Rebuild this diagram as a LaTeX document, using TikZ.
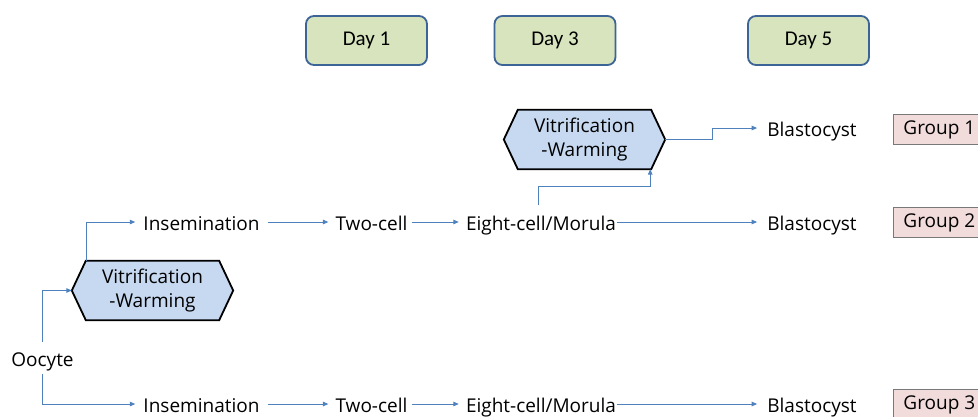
\documentclass[tikz,border=0pt]{standalone}
\usepackage{fontspec}
\setmainfont{Open Sans}
\newfontfamily\dayfont{Carlito}
\usetikzlibrary{arrows.meta,backgrounds,calc}
\definecolor{connc}{RGB}{79,129,189}
\definecolor{hexfill}{RGB}{198,217,241}
\definecolor{dayfill}{RGB}{215,228,189}
\definecolor{daybd}{RGB}{60,100,150}
\definecolor{grpfill}{RGB}{242,220,219}
\definecolor{grpbd}{RGB}{120,120,120}
\begin{document}
\begin{tikzpicture}[x=1pt,y=-1pt,
  lbl/.style={font=\fontsize{19}{22}\selectfont, inner sep=0pt, text height=16pt, text depth=0pt},
  conn/.style={draw=connc, line width=1pt, -{Triangle[length=5.5pt,width=4.5pt]}},
  daybox/.style={draw=daybd, fill=dayfill, line width=1.8pt, rounded corners=8pt, minimum width=121pt, minimum height=49pt, inner sep=0pt, font=\dayfont\fontsize{21}{22}\selectfont},
  hexnode/.style={minimum width=133pt, minimum height=59pt, inner sep=0pt, align=center, font=\fontsize{19}{24}\selectfont},
  hexline/.style={draw=black, fill=hexfill, line width=1.8pt, line join=miter},
  grp/.style={draw=grpbd, fill=grpfill, line width=0.9pt, minimum height=30pt, inner xsep=10pt, inner ysep=0pt, anchor=west, font=\fontsize{19}{22}\selectfont, text height=14pt, text depth=4pt}]
\clip (0,0) rectangle (978,416);

% day boxes
\node[daybox] (d1) at (366.5,40.5) {Day 1};
\node[daybox] (d3) at (555,40.5) {Day 3};
\node[daybox] (d5) at (808.5,40.5) {Day 5};

% hexagons
\node[hexnode] (hexA) at (152.5,290.5) {Vitrification\\-Warming};
\node[hexnode] (hexB) at (584.5,139.5) {Vitrification\\-Warming};
\begin{scope}[on background layer]
\fill[white] (0,0) rectangle (978,416);
\path[hexline] (hexA.north west) -- (hexA.north east) -- ([xshift=14pt]hexA.east) -- (hexA.south east) -- (hexA.south west) -- ([xshift=-14pt]hexA.west) -- cycle;
\path[hexline] (hexB.north west) -- (hexB.north east) -- ([xshift=14pt]hexB.east) -- (hexB.south east) -- (hexB.south west) -- ([xshift=-14pt]hexB.west) -- cycle;
\end{scope}

% labels
\node[lbl, inner ysep=8pt] (oocyte) at (42.5,358) {Oocyte};
\node[lbl] (ins2) at (201.5,222) {Insemination};
\node[lbl] (two2) at (371.5,222) {Two-cell};
\node[lbl] (eight2) at (541,222) {Eight-cell/Morula};
\node[lbl] (blast2) at (812,222) {Blastocyst};
\node[lbl] (blast1) at (812,128) {Blastocyst};
\node[lbl] (ins3) at (201.5,404) {Insemination};
\node[lbl] (two3) at (371.5,404) {Two-cell};
\node[lbl] (eight3) at (541,404) {Eight-cell/Morula};
\node[lbl] (blast3) at (812,404) {Blastocyst};

% groups
\node[grp] (g1) at (893,129) {Group 1};
\node[grp] (g2) at (893,222) {Group 2};
\node[grp] (g3) at (893,404) {Group 3};

% connectors
\draw[conn] (oocyte.north) |- ([xshift=-14pt]hexA.west);
\draw[conn, shorten >=8pt] (oocyte.south) |- (ins3.west);
\draw[conn, shorten >=8pt] ([xshift=1pt]hexA.north west) |- (ins2.west);

\draw[conn, shorten <=8pt, shorten >=7pt] (ins2.east) -- (two2.west);
\draw[conn, shorten <=4pt, shorten >=7pt] (two2.east) -- (eight2.west);
\draw[conn, shorten <=1pt, shorten >=10pt] (eight2.east) -- (blast2.west);

\draw[conn, shorten <=8pt, shorten >=7pt] (ins3.east) -- (two3.west);
\draw[conn, shorten <=4pt, shorten >=7pt] (two3.east) -- (eight3.west);
\draw[conn, shorten <=1pt, shorten >=10pt] (eight3.east) -- (blast3.west);

\draw[conn] ([xshift=-3pt,yshift=9pt]eight2.north) -- ++(0,-18) -| ([xshift=-1pt]hexB.south east);
\draw[conn, shorten >=10pt] ([xshift=14pt]hexB.east) -- ++(47,0) |- (blast1.west);
\end{tikzpicture}
\end{document}
